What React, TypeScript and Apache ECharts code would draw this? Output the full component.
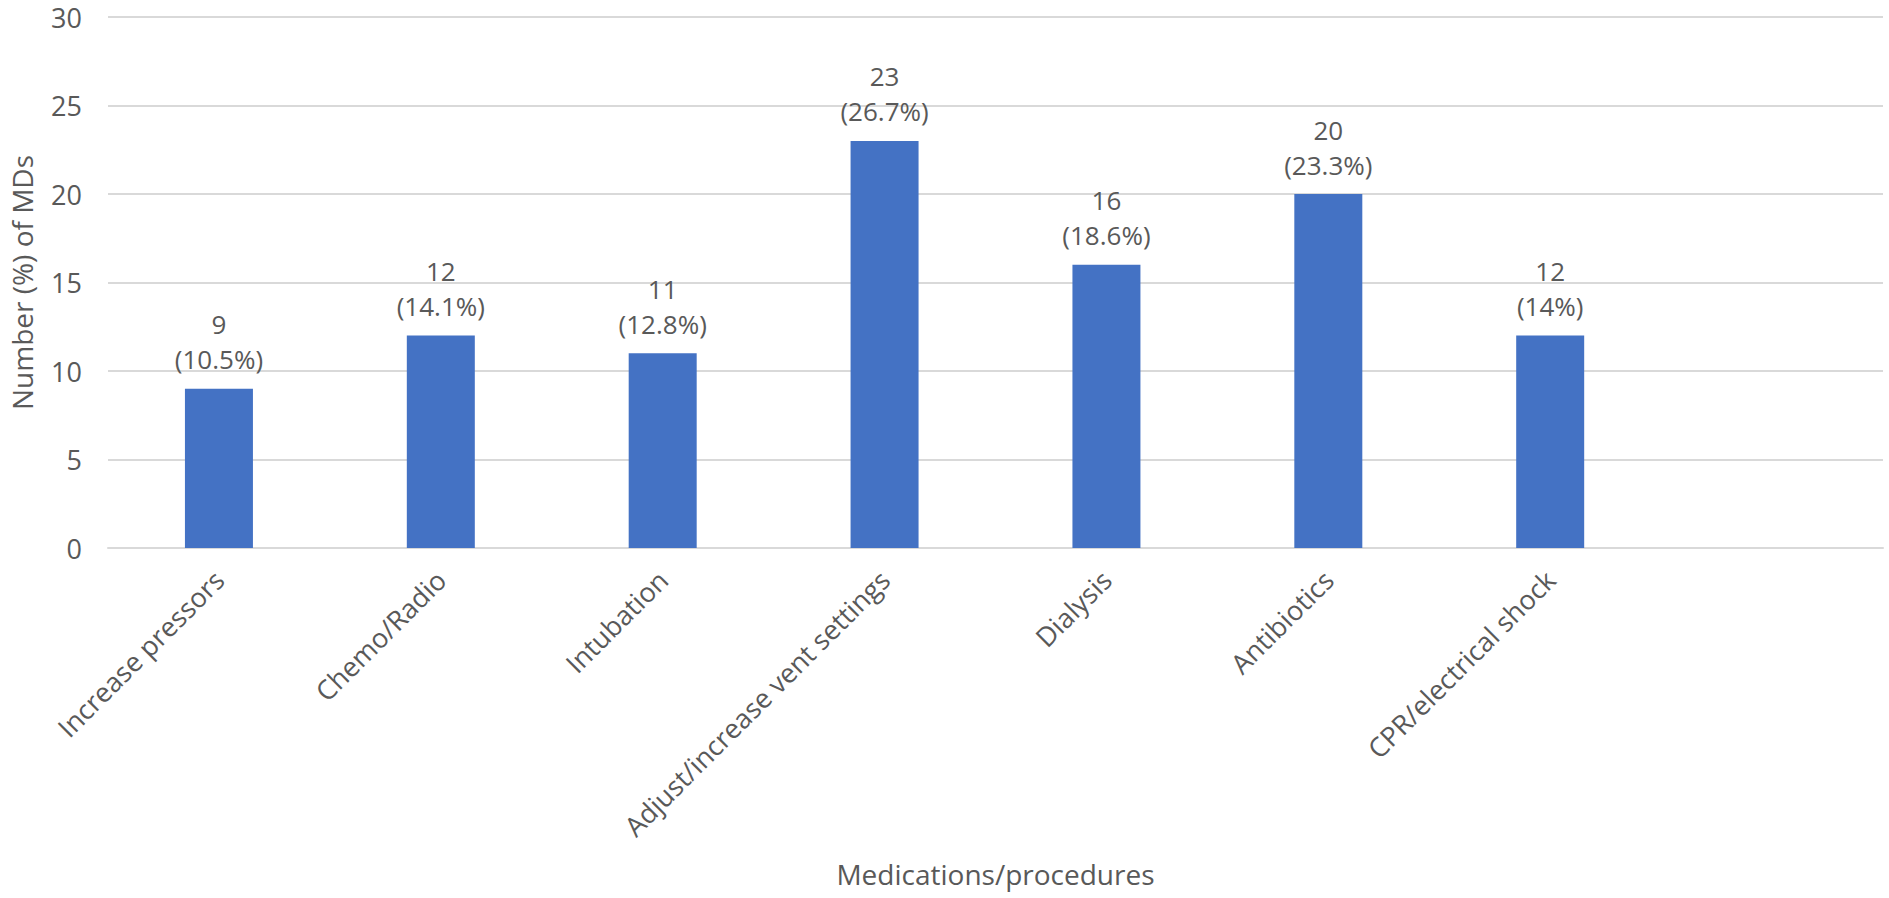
import React, { useEffect, useRef } from "react";
import * as echarts from "echarts";

const categories = [
  "Increase pressors",
  "Chemo/Radio",
  "Intubation",
  "Adjust/increase vent settings",
  "Dialysis",
  "Antibiotics",
  "CPR/electrical shock",
];
const counts = [9, 12, 11, 23, 16, 20, 12];
const percents = ["10.5%", "14.1%", "12.8%", "26.7%", "18.6%", "23.3%", "14%"];
const yTicks = { min: 0, max: 30, interval: 5 };

const FONT = "'Open Sans', 'Noto Sans', sans-serif";
const TEXT = "#595959";

export default function App() {
  const ref = useRef<HTMLDivElement>(null);
  useEffect(() => {
    if (!ref.current) return;
    const chart = echarts.init(ref.current, undefined, { renderer: "svg" });
    chart.setOption({
      animation: false,
      textStyle: { fontFamily: FONT },
      grid: { left: 107, right: 6, top: 17, bottom: 350, containLabel: false },
      xAxis: {
        type: "category",
        data: [...categories, ""],
        name: "Medications/procedures",
        nameLocation: "middle",
        nameGap: 312,
        nameTextStyle: { fontSize: 28, color: TEXT, fontFamily: FONT },
        axisLine: { show: true, lineStyle: { color: "#d9d9d9", width: 2 } },
        axisTick: { show: false },
        axisLabel: {
          rotate: 45,
          interval: 0,
          margin: 27,
          fontSize: 27,
          color: TEXT,
          fontFamily: FONT,
        },
      },
      yAxis: {
        type: "value",
        min: yTicks.min,
        max: yTicks.max,
        interval: yTicks.interval,
        name: "Number (%) of MDs",
        nameLocation: "middle",
        nameGap: 72,
        nameTextStyle: { fontSize: 28, color: TEXT, fontFamily: FONT },
        axisLine: { show: false },
        axisTick: { show: false },
        axisLabel: { margin: 26, fontSize: 27, lineHeight: 28, color: TEXT, fontFamily: FONT },
        splitLine: { lineStyle: { color: "#d9d9d9", width: 2 } },
      },
      series: [
        {
          type: "bar",
          data: counts,
          barWidth: 68,
          itemStyle: { color: "#4472C4" },
          label: {
            show: true,
            position: "top",
            distance: 12,
            fontSize: 26,
            lineHeight: 35,
            color: TEXT,
            fontFamily: FONT,
            formatter: (p: any) => `${counts[p.dataIndex]}\n(${percents[p.dataIndex]})`,
          },
        },
      ],
    });
    return () => chart.dispose();
  }, []);
  return (
    <div
      ref={ref}
      style={{ position: "absolute", left: 0, top: 0, width: 1889, height: 898, background: "#fff" }}
    />
  );
}
